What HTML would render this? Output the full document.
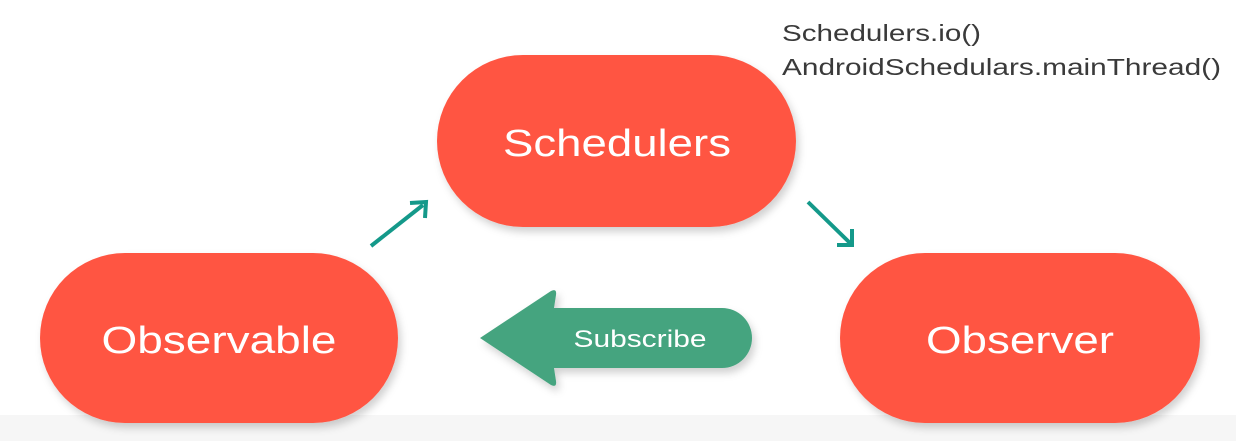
<!DOCTYPE html>
<html><head><meta charset="utf-8"><style>
html,body{margin:0;padding:0;background:#fff;}
body{width:1236px;height:441px;overflow:hidden;}
</style></head><body>
<svg width="1236" height="441" viewBox="0 0 1236 441" xmlns="http://www.w3.org/2000/svg">
<defs>
<filter id="sh" x="-10%" y="-10%" width="130%" height="140%"><feDropShadow dx="3" dy="5" stdDeviation="4" flood-color="#000" flood-opacity="0.18"/></filter>
</defs>
<rect x="0" y="0" width="1236" height="441" fill="#fff"/>
<rect x="0" y="415" width="1236" height="26" fill="#f6f6f6"/>
<g filter="url(#sh)">
<rect x="437" y="55" width="359" height="172" rx="86" fill="#ff5542"/>
<rect x="40" y="253" width="358" height="170" rx="85" fill="#ff5542"/>
<rect x="840" y="253" width="360" height="170" rx="85" fill="#ff5542"/>
<path d="M480,338 L551,291 Q557,288 556,295 L554,308 L722,308 A30,30 0 0 1 722,368 L554,368 L556,381 Q557,388 551,385 Z" fill="#45a47f"/>
</g>
<g font-family="Liberation Sans, sans-serif" fill="#fff" text-anchor="middle">
<text x="617" y="156" font-size="38" textLength="228" lengthAdjust="spacingAndGlyphs">Schedulers</text>
<text x="219" y="353" font-size="38" textLength="235" lengthAdjust="spacingAndGlyphs">Observable</text>
<text x="1020" y="353" font-size="38" textLength="188" lengthAdjust="spacingAndGlyphs">Observer</text>
<text x="640" y="347" font-size="24" textLength="133" lengthAdjust="spacingAndGlyphs">Subscribe</text>
</g>
<g stroke="#14998a" stroke-width="4" fill="none">
<line x1="371" y1="246" x2="423" y2="205"/>
<polyline points="410,203 426,202 425,218"/>
<line x1="808" y1="202" x2="850" y2="243"/>
<polyline points="852,229 852,245 837,245"/>
</g>
<g font-family="Liberation Sans, sans-serif" fill="#3a3a3a" font-size="23">
<text x="782" y="41" textLength="199" lengthAdjust="spacingAndGlyphs">Schedulers.io()</text>
<text x="782" y="75" textLength="439" lengthAdjust="spacingAndGlyphs">AndroidSchedulars.mainThread()</text>
</g>
</svg>
</body></html>
